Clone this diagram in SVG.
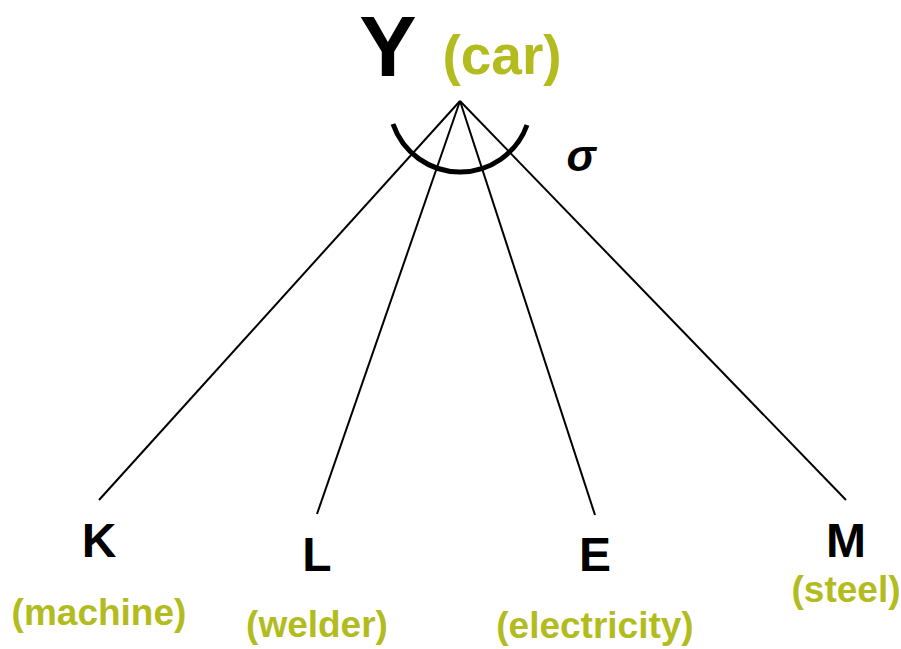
<svg xmlns="http://www.w3.org/2000/svg" width="901" height="649" viewBox="0 0 901 649">
<style>
text{font-family:"Liberation Sans",Arial,sans-serif;font-weight:bold;text-anchor:middle}
.v{fill:#000;font-size:48px}
.g{fill:#B3BC1F;font-size:37px}
.c{stroke:#000;stroke-width:2;fill:none}
</style>
<rect width="901" height="649" fill="#fff"/>
<g id="Y">
<text x="388" y="76" style="font-size:86px" fill="#000">Y</text>
<text x="502" y="74" class="g" style="font-size:55px">(car)</text>
</g>
<g id="connectors">
<line class="c" x1="460" y1="101" x2="99" y2="500"/>
<line class="c" x1="460" y1="101" x2="317" y2="514"/>
<line class="c" x1="460" y1="101" x2="595" y2="515"/>
<line class="c" x1="460" y1="101" x2="846" y2="500"/>
</g>
<g id="sigma">
<path d="M393,124 A71,71 0 0 0 527,125" fill="none" stroke="#000" stroke-width="5"/>
<text x="581" y="171" style="font-size:44px;font-style:italic" fill="#000">σ</text>
</g>
<g id="K"><text x="99" y="557" class="v">K</text><text x="99" y="625" class="g">(machine)</text></g>
<g id="L"><text x="317" y="571" class="v">L</text><text x="317" y="637" class="g">(welder)</text></g>
<g id="E"><text x="595" y="571" class="v">E</text><text x="595" y="638" class="g">(electricity)</text></g>
<g id="M"><text x="846" y="557" class="v">M</text><text x="846" y="602" class="g">(steel)</text></g>
</svg>
